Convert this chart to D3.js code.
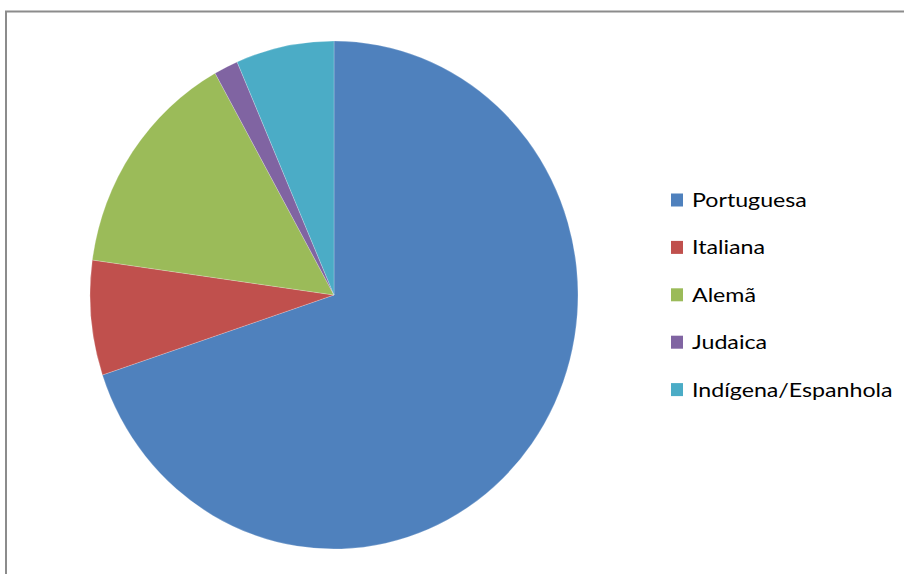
<!DOCTYPE html>
<html>
<head>
<meta charset="utf-8">
<script src="https://cdn.jsdelivr.net/npm/d3@7"></script>
<style>
  html, body { margin: 0; padding: 0; background: #fff; }
  svg { display: block; }
</style>
</head>
<body>
<svg id="chart" width="904" height="574"></svg>
<script>
// Origem étnica – participação de cada grupo
const categories = ["Portuguesa", "Italiana", "Alemã", "Judaica", "Indígena/Espanhola"];
const values = [69.9, 7.3, 14.7, 1.6, 6.5];
const colors = ["#4F81BD", "#C0504D", "#9BBB59", "#8064A2", "#4BACC6"];

const svg = d3.select("#chart");

// chart frame
svg.append("rect")
  .attr("x", 6).attr("y", 11.5)
  .attr("width", 1000).attr("height", 1000)
  .attr("fill", "none")
  .attr("stroke", "#8c8c8c")
  .attr("stroke-width", 2);

const data = categories.map((c, i) => ({ name: c, value: values[i], color: colors[i] }));

const pie = d3.pie().sort(null).value(d => d.value);
const rx = 244, ry = 254;
const arc = d3.arc().innerRadius(0).outerRadius(rx);

const g = svg.append("g")
  .attr("transform", `translate(334,295) scale(1,${ry / rx})`);

g.selectAll("path")
  .data(pie(data))
  .join("path")
  .attr("d", arc)
  .attr("fill", d => d.data.color)
  .attr("stroke", "#ffffff")
  .attr("stroke-opacity", 0.35)
  .attr("stroke-width", 0.6);

// legend
const legend = svg.append("g").attr("transform", "translate(671,200)");
const rowStep = 47.4;
const rows = legend.selectAll("g")
  .data(data)
  .join("g")
  .attr("transform", (d, i) => `translate(0,${i * rowStep})`);

rows.append("rect")
  .attr("x", 0).attr("y", -6.5)
  .attr("width", 12).attr("height", 13)
  .attr("fill", d => d.color);

rows.append("text")
  .attr("transform", "translate(21,7) scale(1.16,1)")
  .attr("font-family", "Lato, 'Open Sans', sans-serif")
  .attr("font-size", 20)
  .attr("fill", "#000")
  .text(d => d.name);
</script>
</body>
</html>
